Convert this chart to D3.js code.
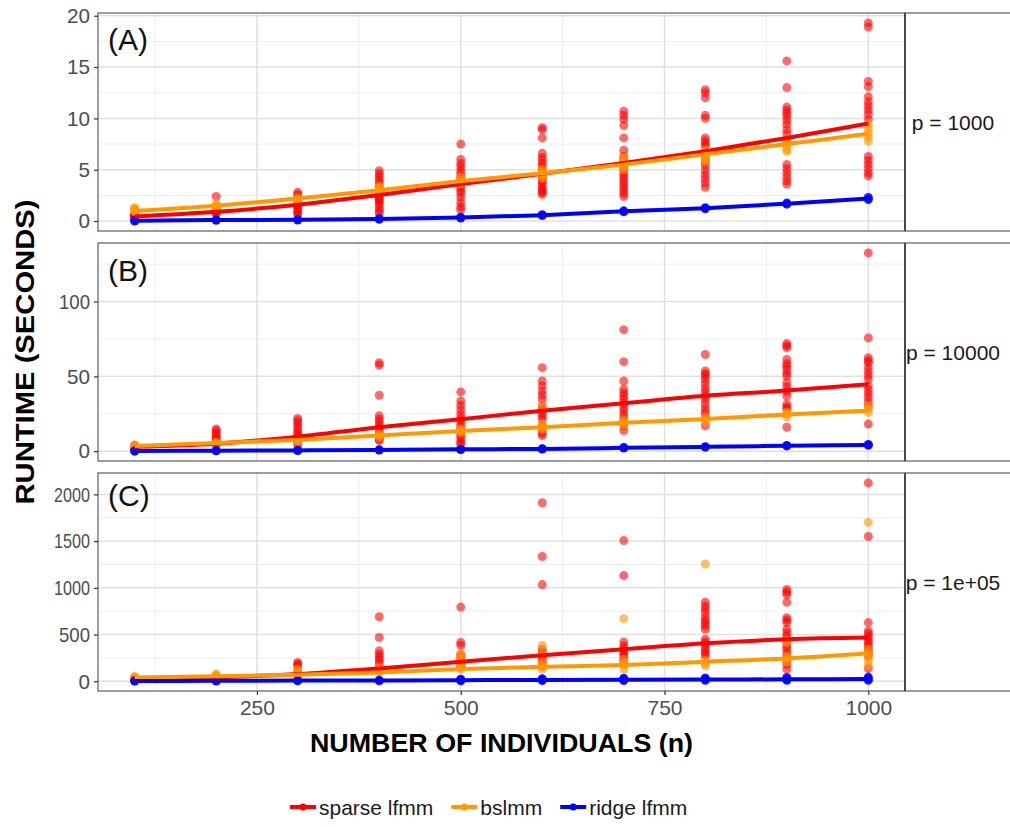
<!DOCTYPE html>
<html><head><meta charset="utf-8">
<script src="https://cdn.jsdelivr.net/npm/d3@7"></script>
<style>
body{margin:0;background:#fff}
svg{display:block}
text{font-family:"Liberation Sans", Arial, Helvetica, sans-serif}
</style>
</head><body>
<svg id="chart" width="1010" height="827"></svg>
<script>
// ---------------- data ----------------
const nValues = [100,200,300,400,500,600,700,800,900,1000];
const methods = ["sparse lfmm","bslmm","ridge lfmm"];
const methodColors = ["#FF0000","#FF9900","#0000FF"];
const panelLabels = ["(A)","(B)","(C)"];
const stripLabels = ["p = 1000","p = 10000","p = 1e+05"];
const xTicks = [250,500,750,1000];
const xMinorTicks = [125,375,625,875];
const yTicksA = [0,5,10,15,20];
const yMinorA = [2.5,7.5,12.5,17.5];
const yTicksB = [0,50,100];
const yMinorB = [25,75,125];
const yTicksC = [0,500,1000,1500,2000];
const yMinorC = [250,750,1250,1750];
const xTitle = "NUMBER OF INDIVIDUALS (n)";
const yTitle = "RUNTIME (SECONDS)";

// Panel A (p = 1000): replicate runtimes per n
const sparseA = [
  [0.3,0.4,0.5,0.6,0.7,0.5,0.4],
  [2.4,1.2,1.0,0.9,0.8,0.7,1.1,0.9],
  [2.8,2.6,2.4,2.2,2.0,1.8,1.6,1.4,1.2,1.0,0.8,0.7],
  [4.9,4.6,4.3,4.0,3.7,3.4,3.1,2.8,2.5,2.2,1.9,1.6,1.3,1.0,0.8,2.4,2.0],
  [7.5,6.0,5.6,5.3,4.9,4.6,4.3,4.0,3.7,3.3,3.0,2.7,2.3,1.8,1.4,1.1,3.5],
  [9.1,8.9,8.1,6.6,6.2,5.9,5.6,5.3,5.0,4.8,4.5,4.2,4.0,3.8,3.5,3.2,3.0,2.8,2.6],
  [10.7,10.3,9.9,9.3,8.1,6.9,6.3,6.0,5.7,5.4,5.1,4.8,4.5,4.2,3.9,3.6,3.3,3.0,2.7,2.4],
  [12.8,12.5,12.0,10.3,10.0,8.1,7.8,7.5,7.3,6.3,6.0,5.7,5.4,4.9,4.5,4.1,3.7,3.3],
  [15.6,13.0,11.1,10.8,10.5,10.2,9.8,9.4,8.9,8.5,8.0,5.5,5.1,4.7,4.3,3.9,3.6],
  [19.3,18.9,13.6,13.1,12.1,11.6,11.2,10.8,10.4,9.9,6.3,5.9,5.5,5.1,4.7,4.4]
];
const bslmmA = [
  [1.3,1.1,1.0,0.9,1.2],[1.7,1.5,1.4,1.3,1.2],[2.3,2.1,2.0,1.9],[3.4,3.2,3.0,2.9,2.7],
  [4.3,4.0,3.8,3.6],[5.0,4.8,4.6,4.4,4.2],[6.2,5.9,5.6,5.3,5.0],[6.9,6.6,6.3,6.0,5.8],
  [8.0,7.6,7.3,7.0,6.8],[9.4,9.0,8.6,8.2,7.8]
];
const ridgeA = [
  [0.0,0.05],[0.08,0.12],[0.1,0.15],[0.18,0.25],[0.3,0.38],[0.55,0.62],[0.9,1.0],[1.2,1.3],[1.65,1.75],[2.1,2.3]
];
const sparseMeanA = [0.45,0.9,1.6,2.55,3.6,4.6,5.65,6.8,8.1,9.5];
const bslmmMeanA  = [1.0,1.5,2.2,3.0,3.9,4.65,5.5,6.5,7.5,8.5];
const ridgeMeanA  = [0.03,0.1,0.12,0.2,0.34,0.58,0.95,1.25,1.7,2.2];

// Panel B (p = 10000)
const sparseB = [
  [4.0,3.0,2.5,2.0],
  [14.8,13.7,12.0,10.5,9.0,8.2,6.5,5.0,4.0],
  [21.9,20.3,18.5,16.5,14.5,12.5,11.5,9.5,8.0,6.0,4.0],
  [59.1,57.5,37.4,23.6,21.5,19.5,17.5,15.5,13.5,11.5,9.5,8.0,7.0],
  [39.6,33.6,30.5,27.5,24.5,22.0,20.3,18.0,16.0,14.0,12.0,10.0,8.0,6.0,4.6],
  [55.8,46.9,43.6,40.2,37.5,34.7,30.3,28.0,25.5,23.5,21.4,17.0,14.0,12.0,10.4],
  [81.2,59.8,46.9,41.4,39.0,36.9,34.7,32.0,29.5,27.0,24.5,22.0,19.5,17.0,13.7],
  [64.6,53.5,51.8,50.2,48.0,45.0,42.0,39.5,36.9,34.7,31.5,28.5,26.0,23.9,17.0],
  [71.9,70.5,69.0,61.3,58.5,56.8,54.6,52.0,50.2,45.8,43.0,40.0,36.9,31.4,29.5,28.1,16.0],
  [132.5,75.7,62.4,60.5,59.1,55.8,53.0,50.5,48.0,43.6,41.0,38.5,36.0,33.0,30.3,18.1]
];
const bslmmB = [
  [4.2,3.5,3.0],[6.0,5.5,5.0],[8.0,7.0,6.5],[11.5,10.4,9.5],[15.0,13.7,12.5],
  [18.0,16.0,14.5,30.0],[21.0,19.2,17.5],[23.0,21.4,20.0],[26.0,24.8,23.0],[30.3,28.0,25.9]
];
const ridgeB = [
  [0.05,0.15],[0.25,0.35],[0.45,0.55],[0.7,0.9],[1.1,1.3],[1.4,1.6],[2.1,2.4],[2.7,3.0],[3.5,3.8],[3.9,4.5]
];
const sparseMeanB = [3.0,5.0,9.7,16.0,21.4,27.0,32.0,37.0,40.5,44.7];
const bslmmMeanB  = [3.5,5.5,7.5,10.5,13.5,16.0,19.0,21.5,24.5,27.0];
const ridgeMeanB  = [0.1,0.3,0.5,0.8,1.2,1.5,2.2,2.9,3.6,4.2];

// Panel C (p = 1e+05)
const sparseC = [
  [30,25,20],
  [45,40,50],
  [202,185,166,120,90,70],
  [691,468,326,290,260,230,202,160,130,110],
  [794,415,386,290,260,230,205,180,150],
  [1911,1336,1035,340,310,280,250,220,190,160],
  [1506,1131,421,379,350,320,295,272,240,210],
  [847,804,770,734,681,650,620,590,556,450,420,390,360,326,300,270],
  [982,955,929,847,681,655,628,556,520,485,450,415,375,340,300,260,220,180,130],
  [2123,1549,628,538,510,480,450,420,390,360,330,300,272,138]
];
const bslmmC = [
  [53,40,30],[78,65,55],[130,100,78],[150,120,100],[290,250,200,160,130],
  [386,300,205,170,130],[670,237,200,170,130],[1255,219,190,166],[440,415,264,240,209],
  [1702,344,300,260,220,166]
];
const ridgeC = [
  [2,5],[3,7],[4,9],[5,12],[6,15,22],[8,18,28],[8,20,32],[10,22,36],[10,24,40],[10,26,45]
];
const sparseMeanC = [32,42,78,138,209,278,344,407,450,468];
const bslmmMeanC  = [40,55,71,95,131,155,175,209,245,301];
const ridgeMeanC  = [3,5,7,9,12,15,17,19,21,24];

// ---------------- layout ----------------
const plotLeft = 98, plotRight = 905, stripW = 96;
const panelTops = [13,243,473], panelH = 218;
const labelBaselines = [37,38,33];
const pointAlpha = [0.58,0.62,0.85];

const panels = [
  {label: panelLabels[0], strip: stripLabels[0], ticks: yTicksA, minor: yMinorA,
   pts: [sparseA,bslmmA,ridgeA], means: [sparseMeanA,bslmmMeanA,ridgeMeanA]},
  {label: panelLabels[1], strip: stripLabels[1], ticks: yTicksB, minor: yMinorB,
   pts: [sparseB,bslmmB,ridgeB], means: [sparseMeanB,bslmmMeanB,ridgeMeanB]},
  {label: panelLabels[2], strip: stripLabels[2], ticks: yTicksC, minor: yMinorC,
   pts: [sparseC,bslmmC,ridgeC], means: [sparseMeanC,bslmmMeanC,ridgeMeanC]}
];

const svg = d3.select("#chart");
svg.append("rect").attr("width",1010).attr("height",827).attr("fill","#fff");

const xExt = d3.extent(nValues);
const xPad = (xExt[1]-xExt[0])*0.05;
const x = d3.scaleLinear().domain([xExt[0]-xPad, xExt[1]+xPad]).range([plotLeft, plotRight]);

const tickLen = {1:11.5, 2:23, 3:31, 4:36};

panels.forEach((p, pi) => {
  const g = svg.append("g").attr("transform", `translate(0,${panelTops[pi]})`);
  const all = p.pts.flat(2).concat(p.means.flat());
  const ext = d3.extent(all);
  const pad = (ext[1]-ext[0])*0.05;
  const y = d3.scaleLinear().domain([ext[0]-pad, ext[1]+pad]).range([panelH, 0]);

  // minor grid
  g.selectAll(".gxm").data(xMinorTicks).join("line")
    .attr("x1", d=>x(d)).attr("x2", d=>x(d)).attr("y1",0).attr("y2",panelH)
    .attr("stroke","#EDEDED").attr("stroke-width",1);
  g.selectAll(".gym").data(p.minor).join("line")
    .attr("x1", plotLeft).attr("x2", plotRight).attr("y1", d=>y(d)).attr("y2", d=>y(d))
    .attr("stroke","#EDEDED").attr("stroke-width",1);
  // major grid
  g.selectAll(".gx").data(xTicks).join("line")
    .attr("x1", d=>x(d)).attr("x2", d=>x(d)).attr("y1",0).attr("y2",panelH)
    .attr("stroke","#E0E0E0").attr("stroke-width",1.5);
  g.selectAll(".gy").data(p.ticks).join("line")
    .attr("x1", plotLeft).attr("x2", plotRight).attr("y1", d=>y(d)).attr("y2", d=>y(d))
    .attr("stroke","#E0E0E0").attr("stroke-width",1.5);

  // points
  p.pts.forEach((series, mi) => {
    const flat = [];
    series.forEach((vals, ni) => vals.forEach(v => flat.push({n: nValues[ni], v})));
    g.append("g").selectAll("circle").data(flat).join("circle")
      .attr("cx", d=>x(d.n)).attr("cy", d=>y(d.v)).attr("r", 4.5)
      .attr("fill", methodColors[mi]).attr("fill-opacity", pointAlpha[mi]);
  });
  // lines
  p.means.forEach((m, mi) => {
    const line = d3.line().x((d,i)=>x(nValues[i])).y(d=>y(d)).curve(d3.curveMonotoneX);
    g.append("path").datum(m).attr("d", line).attr("fill","none")
      .attr("stroke", methodColors[mi]).attr("stroke-width", 4).attr("stroke-linejoin","round");
  });

  // border
  g.append("rect").attr("x", plotLeft).attr("y", 0).attr("width", plotRight-plotLeft).attr("height", panelH)
    .attr("fill","none").attr("stroke","#6a6a6a").attr("stroke-width",1.3);

  // y axis
  const ya = g.append("g").attr("transform", `translate(${plotLeft},0)`)
    .call(d3.axisLeft(y).tickValues(p.ticks).tickSize(4).tickPadding(4).tickFormat(d3.format("d")));
  ya.select(".domain").remove();
  ya.selectAll(".tick line").attr("stroke","#333").attr("stroke-width",1.2);
  ya.selectAll(".tick text").attr("fill","#4D4D4D").style("font-size","21px")
    .attr("font-family","Liberation Sans, Arial, sans-serif")
    .each(function(){ const t=d3.select(this); const n=t.text().length;
      t.attr("textLength", tickLen[n]).attr("lengthAdjust","spacingAndGlyphs"); });

  // panel label
  g.append("text").attr("x", plotLeft+10).attr("y", labelBaselines[pi]).text(p.label)
    .attr("fill","#111").style("font-size","30px");

  // strip
  g.append("rect").attr("x", plotRight).attr("y",0).attr("width", stripW+20).attr("height", panelH)
    .attr("fill","#fff").attr("stroke","#6a6a6a").attr("stroke-width",1.3);
  g.append("line").attr("x1", plotRight).attr("x2", plotRight).attr("y1",0).attr("y2",panelH)
    .attr("stroke","#444").attr("stroke-width",1.8);
  g.append("text").attr("x", plotRight+stripW/2).attr("y", panelH/2).attr("text-anchor","middle")
    .attr("dominant-baseline","central").attr("fill","#1a1a1a").style("font-size","21px").text(p.strip);

  if (pi === panels.length-1) {
    const xa = g.append("g").attr("transform", `translate(0,${panelH})`)
      .call(d3.axisBottom(x).tickValues(xTicks).tickSize(4).tickPadding(5).tickFormat(d3.format("d")));
    xa.select(".domain").remove();
    xa.selectAll(".tick line").attr("stroke","#333").attr("stroke-width",1.2);
    xa.selectAll(".tick text").attr("fill","#4D4D4D").style("font-size","21px")
      .attr("font-family","Liberation Sans, Arial, sans-serif");
  }
});

// axis titles
svg.append("text").attr("x", (plotLeft+plotRight)/2).attr("y", 752).attr("text-anchor","middle")
  .style("font-size","25px").style("font-weight","bold").attr("fill","#000")
  .attr("textLength", 383).attr("lengthAdjust","spacingAndGlyphs").text(xTitle);
svg.append("text").attr("transform", `translate(34,352) rotate(-90)`).attr("text-anchor","middle")
  .style("font-size","26px").style("font-weight","bold").attr("fill","#000")
  .attr("textLength", 305).attr("lengthAdjust","spacingAndGlyphs").text(yTitle);

// legend
const lg = svg.append("g").attr("transform","translate(290,807)");
let lx = 0;
methods.forEach((m, i) => {
  const it = lg.append("g").attr("transform", `translate(${lx},0)`);
  it.append("line").attr("x1",0).attr("x2",26).attr("y1",0).attr("y2",0)
    .attr("stroke", methodColors[i]).attr("stroke-width",4);
  it.append("circle").attr("cx",13).attr("cy",0).attr("r",3.5).attr("fill", methodColors[i]);
  const t = it.append("text").attr("x",29).attr("y",0).attr("dominant-baseline","central")
    .style("font-size","21px").attr("fill","#1a1a1a").text(m);
  lx += 29 + t.node().getComputedTextLength() + 18;
});
</script>
</body></html>
